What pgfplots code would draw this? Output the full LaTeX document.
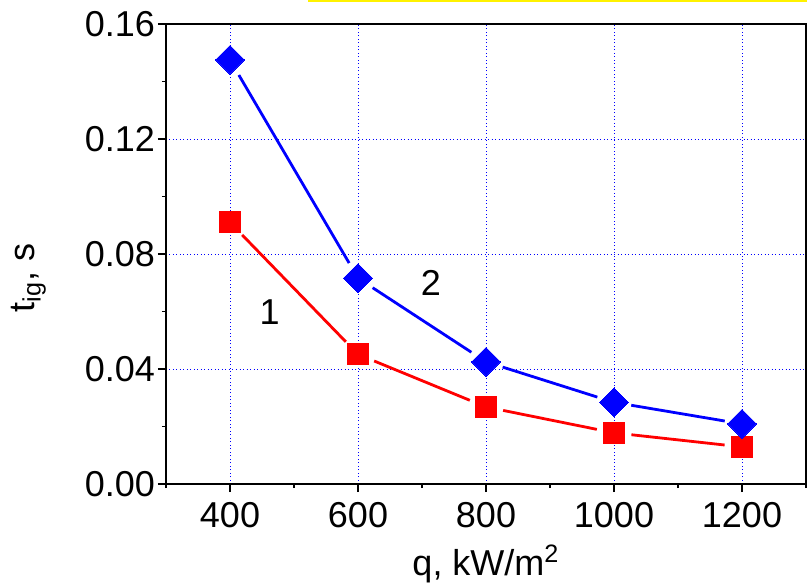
\documentclass[border=0pt]{standalone}
\usepackage{pgfplots}
\pgfplotsset{compat=1.18}
\usepackage{fontspec}
\setmainfont{Liberation Sans}
\newcommand\lblfont{\fontsize{18}{21.6}\selectfont}

\begin{document}
\begin{tikzpicture}
\useasboundingbox (-83pt,-50pt) rectangle (320.5pt,242pt);
\begin{axis}[
  at={(0,0)}, anchor=south west,
  scale only axis, width=320pt, height=230pt,
  xmin=300, xmax=1300, ymin=0, ymax=0.16,
  xtick={400,600,800,1000,1200},
  minor xtick={300,500,700,900,1100,1300},
  ytick={0,0.04,0.08,0.12,0.16},
  minor ytick={0.02,0.06,0.10,0.14},
  xtick pos=bottom, ytick pos=left, tick align=outside,
  major tick length=4pt, minor tick length=2pt,
  every tick/.style={black, line width=0.8pt},
  axis line style={line width=1pt},
  grid=major,
  major grid style={blue, line width=0.45pt, dash pattern=on 0.45pt off 1.3pt},
  /pgf/number format/assume math mode=true,
  /pgf/number format/1000 sep={},
  y tick label style={/pgf/number format/fixed,
    /pgf/number format/fixed zerofill, /pgf/number format/precision=2,
    xshift=2pt},
  x tick label style={yshift=-1.5pt},
  scaled y ticks=false,
  tick label style={font=\lblfont},
  label style={font=\lblfont},
  xlabel={q, kW/m\textsuperscript{2}},
  ylabel={t\textsubscript{ig}, s},
  xlabel style={at={(axis description cs:0.5,-0.198)}, anchor=base},
  ylabel style={at={(axis description cs:-0.215,0.448)}, anchor=center},
]
% curve 1: connecting segments, stopped short of the markers
\addplot[red, line width=1.4pt, shorten <=8.75pt, shorten >=8.75pt] coordinates {(400,0.0910) (600,0.0451)};
\addplot[red, line width=1.4pt, shorten <=8.75pt, shorten >=8.75pt] coordinates {(600,0.0451) (800,0.0268)};
\addplot[red, line width=1.4pt, shorten <=8.75pt, shorten >=8.75pt] coordinates {(800,0.0268) (1000,0.0178)};
\addplot[red, line width=1.4pt, shorten <=8.75pt, shorten >=8.75pt] coordinates {(1000,0.0178) (1200,0.0129)};
% curve 2
\addplot[blue, line width=1.4pt, shorten <=8.75pt, shorten >=8.75pt] coordinates {(400,0.1475) (600,0.0716)};
\addplot[blue, line width=1.4pt, shorten <=8.75pt, shorten >=8.75pt] coordinates {(600,0.0716) (800,0.0425)};
\addplot[blue, line width=1.4pt, shorten <=8.75pt, shorten >=8.75pt] coordinates {(800,0.0425) (1000,0.0284)};
\addplot[blue, line width=1.4pt, shorten <=8.75pt, shorten >=8.75pt] coordinates {(1000,0.0284) (1200,0.0209)};
% markers
\addplot[only marks, red, mark=square*, mark size=5.25pt,
  mark options={fill=red, line width=0pt}]
  coordinates {(400,0.0910) (600,0.0451) (800,0.0268) (1000,0.0178) (1200,0.0129)};
\addplot[only marks, blue, mark=square*, mark size=5.13pt,
  mark options={rotate=45, fill=blue, line width=0pt}]
  coordinates {(400,0.1475) (600,0.0716) (800,0.0425) (1000,0.0284) (1200,0.0209)};
\node[font=\lblfont] at (axis cs:462,0.0598) {1};
\node[font=\lblfont] at (axis cs:714,0.0699) {2};
\end{axis}
\draw[yellow, line width=0.8pt] (71pt,241.6pt) -- (320.5pt,241.6pt);
\end{tikzpicture}
\end{document}
